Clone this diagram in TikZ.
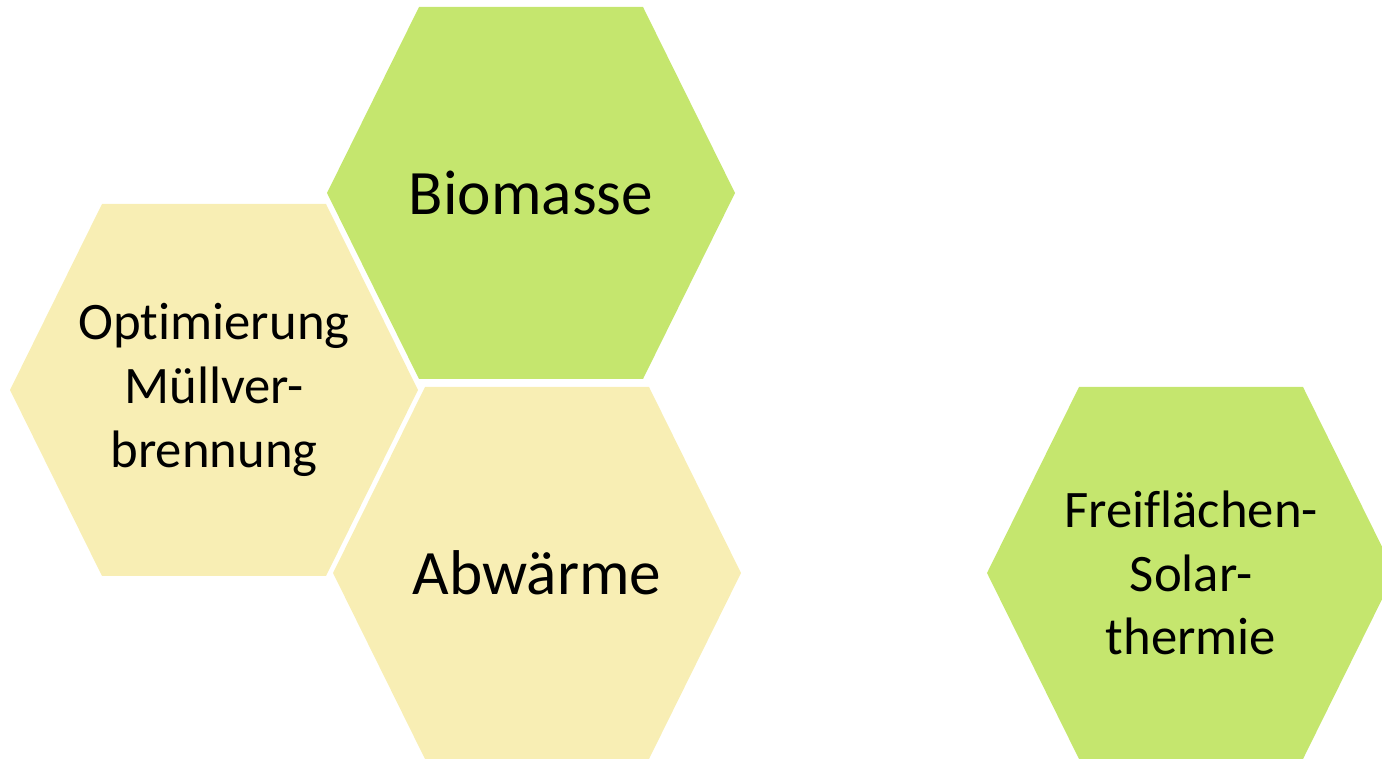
\documentclass[tikz,border=0pt]{standalone}
\usepackage{fontspec}
\setmainfont{Carlito}[Ligatures=NoCommon]
\definecolor{TileGreen}{HTML}{C5E66E}
\definecolor{TileYellow}{HTML}{F8EEB4}

\begin{document}
\begin{tikzpicture}[
      x=0.02cm, y=-0.02cm,
      hexa/.pic={\path[pic actions] (-204,0) -- (-112,-186) -- (112,-186)
                  -- (204,0) -- (112,186) -- (-112,186) -- cycle;},
      gtile/.style={fill=TileGreen},
      ytile/.style={fill=TileYellow},
      bigtxt/.style={font=\fontsize{36}{43}\selectfont},
      smalltxt/.style={align=center, font=\fontsize{30}{36.3}\selectfont},
    ]
      \useasboundingbox (0,0) rectangle (1382,759);
      \clip (0,0) rectangle (1382,759);

      % tiles
      \pic[gtile] at (531,193)  {hexa};
      \pic[ytile] at (214,390)  {hexa};
      \pic[ytile] at (537,573)  {hexa};
      \pic[gtile] at (1191,573) {hexa};

      % labels
      \node[bigtxt]   (bio) at (531,193)  {Biomasse};
      \node[smalltxt] (mva) at (214,390)  {Optimierung\\M\"ullver-\\brennung};
      \node[bigtxt]   (abw) at (537,573)  {Abw\"arme};
      \node[smalltxt] (sol) at (1191,573) {Freifl\"achen-\\Solar-\\thermie};
    \end{tikzpicture}
\end{document}
